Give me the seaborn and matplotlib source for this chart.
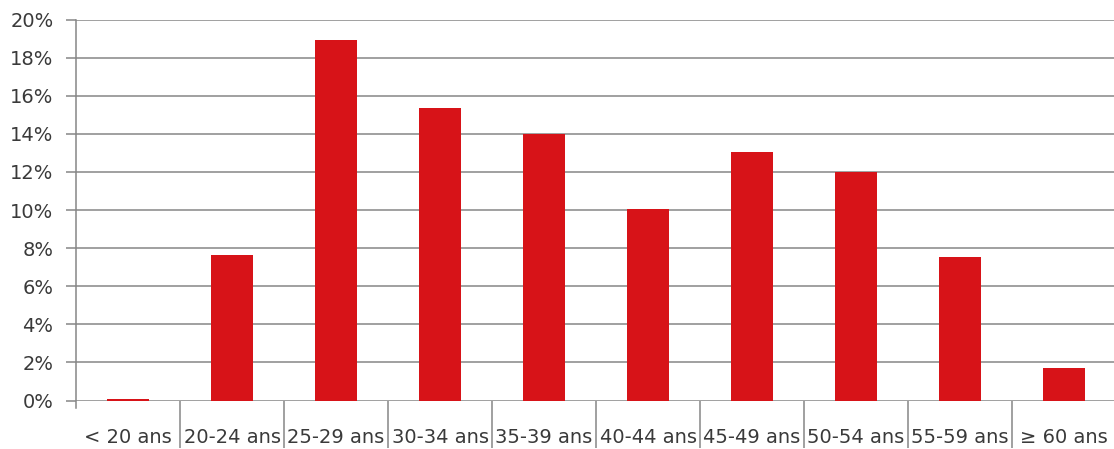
import matplotlib
matplotlib.use("Agg")
import matplotlib.pyplot as plt
import seaborn as sns
import pandas as pd
from matplotlib.ticker import FixedLocator, FuncFormatter

categories = ["< 20 ans", "20-24 ans", "25-29 ans", "30-34 ans", "35-39 ans",
              "40-44 ans", "45-49 ans", "50-54 ans", "55-59 ans", "\u2265 60 ans"]
values = [0.1, 7.64, 18.95, 15.35, 13.99, 10.03, 13.04, 11.98, 7.53, 1.72]
y_ticks = [0, 2, 4, 6, 8, 10, 12, 14, 16, 18, 20]

sns.set_theme(style="white")
plt.rcParams['font.family'] = ['DejaVu Sans']

df = pd.DataFrame({"cat": categories, "val": values})

fig = plt.figure(figsize=(11.14, 4.49), dpi=100)
ax = fig.add_axes([76/1114, 1 - 400.5/449, 1040/1114, 381/449])

grid_c = "#868686"
for t in y_ticks:
    ax.axhline(t, color=grid_c, lw=1.1, zorder=0)

sns.barplot(data=df, x="cat", y="val", color="#D71318", saturation=1,
            width=0.4, ax=ax, zorder=2, linewidth=0)

ax.set_xlim(-0.5, 9.5)
ax.set_ylim(0, 20)
ax.set_yticks(y_ticks)
ax.yaxis.set_major_formatter(FuncFormatter(lambda v, p: f"{int(round(v))}%"))
ax.set_xlabel("")
ax.set_ylabel("")

for s in ["top", "right", "bottom"]:
    ax.spines[s].set_visible(False)
ax.spines["left"].set_color(grid_c)
ax.spines["left"].set_linewidth(1.1)
ax.spines["left"].set_bounds(-0.4, 20)

ax.tick_params(axis="y", which="major", left=True, length=7.2, width=1.1,
               color=grid_c, pad=9, labelsize=14, labelcolor="#3a3a3a")
ax.tick_params(axis="x", which="major", bottom=False, length=0, pad=20,
               labelsize=14, labelcolor="#3a3a3a")
ax.xaxis.set_minor_locator(FixedLocator([i + 0.5 for i in range(0, 10)]))
ax.tick_params(axis="x", which="minor", bottom=True, length=34, width=1.1,
               color=grid_c)

fig.savefig("out.png", dpi=100)
